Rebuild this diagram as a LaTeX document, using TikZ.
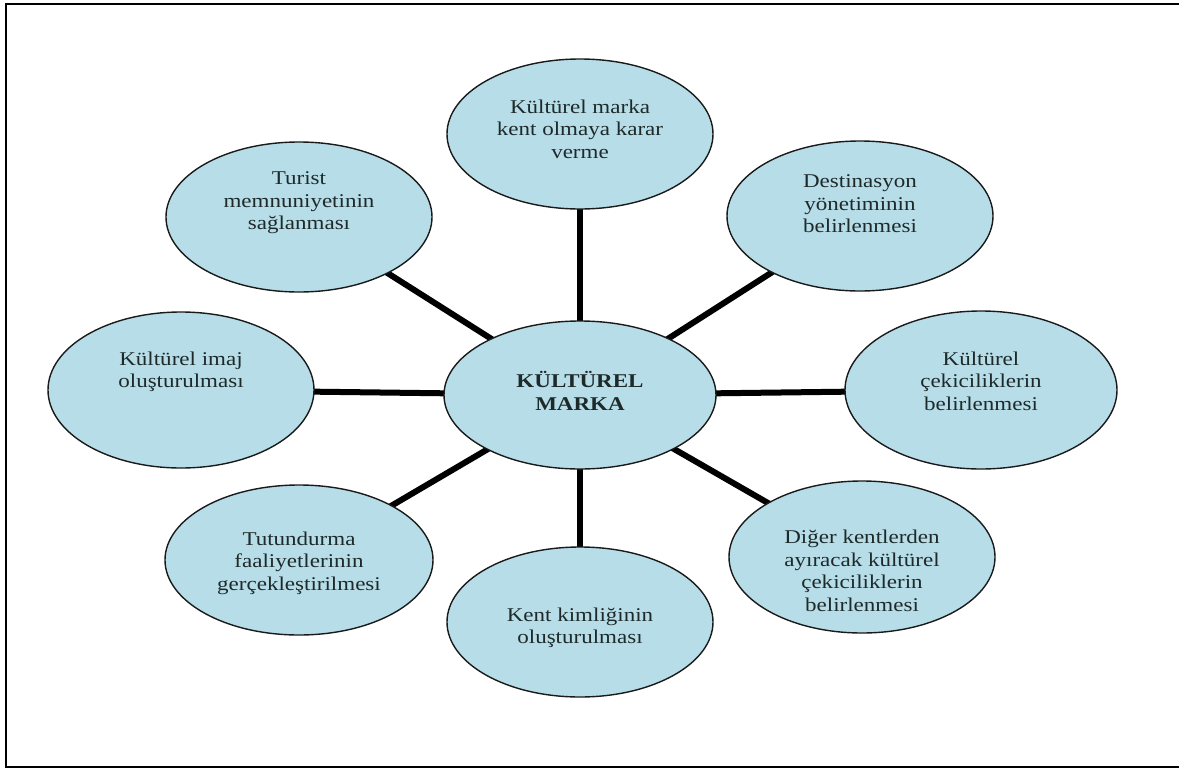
\documentclass[tikz,border=0pt]{standalone}
\usepackage{fontspec}
\setmainfont[FakeStretch=1.18]{Liberation Serif}
\usetikzlibrary{shapes.geometric,backgrounds}
\definecolor{ellfill}{HTML}{B7DDE8}
\definecolor{elldraw}{HTML}{1A1A1A}
\definecolor{txtcol}{HTML}{1E2A2A}
\tikzset{
  ell/.style={ellipse, draw=elldraw, line width=1.4pt, fill=ellfill, inner sep=0pt},
  txt/.style={align=center, text=txtcol, font=\fontsize{19.5}{22.5}\selectfont, inner sep=0pt},
  conn/.style={line width=6pt, draw=black}
}
\begin{document}
\begin{tikzpicture}[x=1pt,y=-1pt]
\useasboundingbox (0,0) rectangle (1179,769);
\draw[line width=2pt, black] (5.5,3.5) rectangle (1195,767);
% ellipses
\node[ell, minimum width=266pt, minimum height=150pt] (top) at (580,134) {};
\node[ell, minimum width=272pt, minimum height=148pt] (mid) at (580,395) {};
\node[ell, minimum width=266pt, minimum height=150pt] (dest) at (860,216) {};
\node[ell, minimum width=272pt, minimum height=158pt] (cek) at (981,390) {};
\node[ell, minimum width=266pt, minimum height=152pt] (dig) at (862,557) {};
\node[ell, minimum width=266pt, minimum height=150pt] (kent) at (580,622) {};
\node[ell, minimum width=268pt, minimum height=150pt] (tut) at (299,560) {};
\node[ell, minimum width=266pt, minimum height=156pt] (imaj) at (181,390) {};
\node[ell, minimum width=266pt, minimum height=150pt] (tur) at (299,217) {};
% texts
\node[txt] (topt) at (580,129) {Kültürel marka\\kent olmaya karar\\verme};
\node[txt, font=\fontsize{19.5}{22.5}\selectfont\bfseries] (midt) at (580,391) {KÜLTÜREL\\MARKA};
\node[txt] (destt) at (860,204) {Destinasyon\\yönetiminin\\belirlenmesi};
\node[txt] (cekt) at (981,381) {Kültürel\\çekiciliklerin\\belirlenmesi};
\node[txt] (digt) at (862,571) {Diğer kentlerden\\ayıracak kültürel\\çekiciliklerin\\belirlenmesi};
\node[txt] (kentt) at (580,628) {Kent kimliğinin\\oluşturulması};
\node[txt] (tutt) at (299,563) {Tutundurma\\faaliyetlerinin\\gerçekleştirilmesi};
\node[txt] (imajt) at (181,372) {Kültürel imaj\\oluşturulması};
\node[txt] (turt) at (299,203) {Turist\\memnuniyetinin\\sağlanması};
% connectors
\begin{pgfonlayer}{background}
\foreach \n in {top,dest,cek,dig,kent,tut,imaj,tur}
  \draw[conn] (mid.center) -- (\n.center);
\end{pgfonlayer}
\end{tikzpicture}
\end{document}
